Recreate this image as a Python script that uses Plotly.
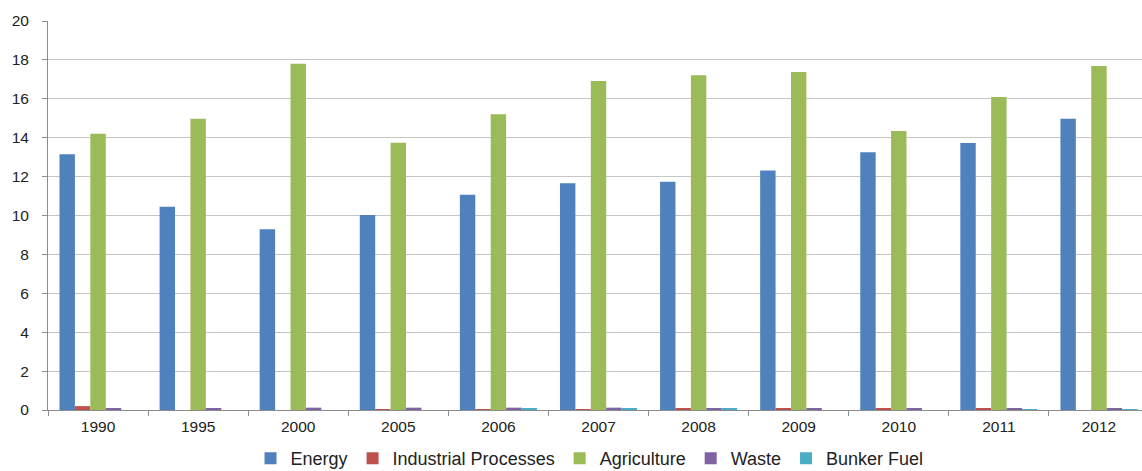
import plotly.graph_objects as go

years = ["1990", "1995", "2000", "2005", "2006", "2007", "2008", "2009", "2010", "2011", "2012"]
energy = [13.15, 10.45, 9.29, 10.03, 11.07, 11.66, 11.74, 12.32, 13.25, 13.73, 14.98]
industrial = [0.2, 0.0, 0.0, 0.05, 0.05, 0.05, 0.1, 0.1, 0.1, 0.1, 0.0]
agriculture = [14.2, 14.98, 17.8, 13.74, 15.21, 16.92, 17.21, 17.38, 14.35, 16.09, 17.69]
waste = [0.08, 0.07, 0.12, 0.12, 0.12, 0.12, 0.1, 0.1, 0.1, 0.1, 0.1]
bunker = [0.0, 0.0, 0.0, 0.0, 0.1, 0.06, 0.06, 0.0, 0.0, 0.05, 0.05]
y_ticks = [0, 2, 4, 6, 8, 10, 12, 14, 16, 18, 20]

series = [
    ("Energy", energy, "#4F81BD"),
    ("Industrial Processes", industrial, "#C0504D"),
    ("Agriculture", agriculture, "#9BBB59"),
    ("Waste", waste, "#8064A2"),
    ("Bunker Fuel", bunker, "#4BACC6"),
]

fig = go.Figure()
for name, vals, color in series:
    fig.add_trace(go.Bar(x=years, y=vals, name=name, marker=dict(color=color, line=dict(width=0))))

font_family = "Liberation Sans, Arial, sans-serif"
fig.update_layout(
    width=1142, height=471,
    margin=dict(l=48, r=0, t=21, b=61, autoexpand=False),
    paper_bgcolor="white", plot_bgcolor="white",
    barmode="group", bargap=0.23, bargroupgap=0,
    font=dict(family=font_family, size=16, color="#222222"),
    showlegend=True,
    legend=dict(orientation="h", x=0.495, xanchor="center", y=-0.125, yanchor="middle",
                font=dict(size=18, color="#222222"), traceorder="normal",
                itemwidth=30, tracegroupgap=0),
)
fig.update_xaxes(
    type="category", range=[-0.5, 10.43],
    showline=True, linecolor="#8c8c8c", linewidth=1,
    ticks="outside", tickson="boundaries", ticklen=5, tickcolor="#8c8c8c",
    showgrid=False, tickfont=dict(size=15.5, color="#222222"),
    ticklabelstandoff=2,
)
fig.update_yaxes(
    range=[0, 20], tickvals=y_ticks,
    showline=True, linecolor="#8c8c8c", linewidth=1,
    ticks="outside", ticklen=5, tickcolor="#8c8c8c",
    showgrid=True, gridcolor="#c6c6c6", gridwidth=1,
    zeroline=False, tickfont=dict(size=15.5, color="#222222"),
    ticklabelstandoff=10,
)

fig.write_html("out.html")
